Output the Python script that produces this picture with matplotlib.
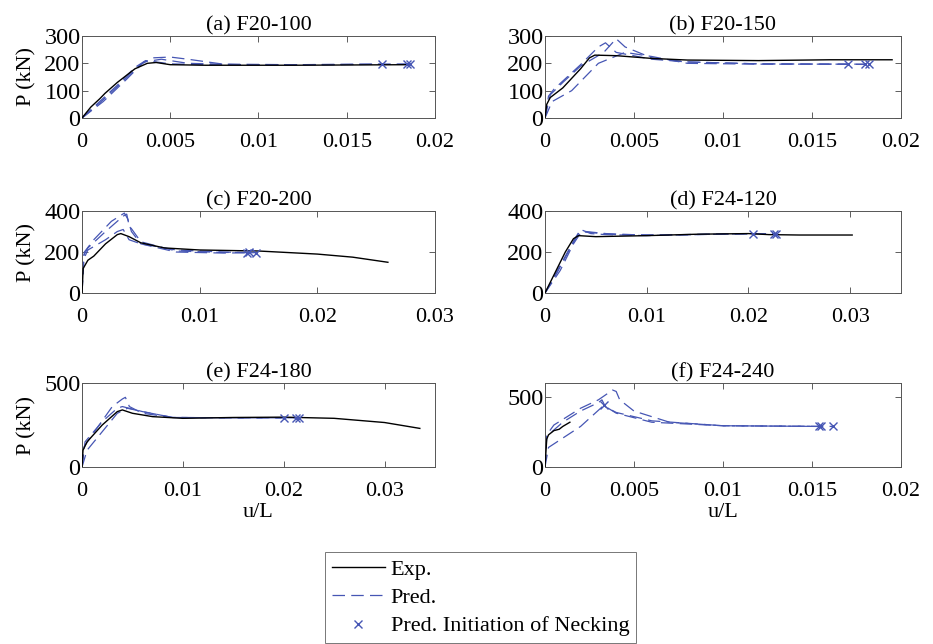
import matplotlib.pyplot as plt

plt.rcParams['font.family'] = ['Liberation Serif', 'DejaVu Serif']
plt.rcParams['font.size'] = 16

EXP_C = 'k'
PRED_C = '#4656b4'

# ---------------- (a) F20-100 ----------------
a_exp_u = [0, 0.0005, 0.001, 0.0013, 0.002, 0.003, 0.0037, 0.0042, 0.005, 0.007, 0.012, 0.0185]
a_exp_p = [0, 40, 70, 90, 130, 180, 200, 203, 195, 193, 193, 195]
a_pred_u = [[0, 0.001, 0.002, 0.003, 0.0036, 0.0042, 0.005, 0.007, 0.012, 0.017],
            [0, 0.001, 0.002, 0.0033, 0.004, 0.005, 0.006, 0.008, 0.012, 0.0184],
            [0, 0.0012, 0.0025, 0.0035, 0.0045, 0.006, 0.009, 0.014, 0.0186]]
a_pred_p = [[0, 60, 120, 185, 210, 205, 198, 195, 195, 197],
            [0, 55, 115, 195, 220, 223, 215, 197, 195, 197],
            [0, 60, 140, 205, 215, 200, 195, 195, 197]]

# ---------------- (b) F20-150 ----------------
b_exp_u = [0, 0.0001, 0.0003, 0.001, 0.002, 0.0025, 0.0028, 0.004, 0.006, 0.008, 0.012, 0.016, 0.0195]
b_exp_p = [0, 50, 75, 110, 180, 220, 230, 228, 218, 212, 210, 213, 213]
b_pred_u = [[0, 0.0002, 0.0005, 0.002, 0.003, 0.0034, 0.004, 0.006, 0.008, 0.012, 0.017],
            [0, 0.0003, 0.001, 0.002, 0.0033, 0.004, 0.0045, 0.006, 0.008, 0.012, 0.018],
            [0, 0.0004, 0.0015, 0.003, 0.0045, 0.006, 0.008, 0.012, 0.0182]]
b_pred_p = [[0, 80, 105, 195, 260, 275, 240, 215, 205, 198, 197],
            [0, 85, 130, 190, 240, 290, 260, 220, 205, 198, 196],
            [0, 60, 100, 200, 240, 225, 200, 197, 197]]

# ---------------- (c) F20-200 ----------------
c_exp_u = [0, 0.0001, 0.0005, 0.001, 0.002, 0.003, 0.0033, 0.004, 0.005, 0.007, 0.01, 0.015, 0.02, 0.023, 0.026]
c_exp_p = [0, 120, 160, 180, 240, 285, 290, 275, 245, 220, 210, 205, 190, 175, 150]
c_pred_u = [[0, 0.0001, 0.0005, 0.002, 0.003, 0.0035, 0.004, 0.005, 0.008, 0.012, 0.014],
            [0, 0.0001, 0.0005, 0.002, 0.003, 0.0035, 0.0038, 0.004, 0.005, 0.008, 0.012, 0.0142],
            [0, 0.0002, 0.001, 0.0025, 0.0036, 0.0039, 0.0042, 0.005, 0.008, 0.012, 0.0148]]
c_pred_p = [[0, 160, 210, 260, 300, 310, 260, 240, 210, 200, 197],
            [0, 180, 220, 300, 350, 375, 385, 330, 250, 205, 198, 198],
            [0, 200, 260, 350, 390, 360, 300, 240, 200, 195, 197]]

# ---------------- (d) F24-120 ----------------
d_exp_u = [0, 0.001, 0.002, 0.0028, 0.0033, 0.005, 0.01, 0.015, 0.02, 0.022, 0.025, 0.0302]
d_exp_p = [0, 100, 200, 265, 280, 275, 280, 287, 290, 285, 283, 283]
d_pred_u = [[0, 0.001, 0.002, 0.003, 0.0035, 0.0045, 0.006, 0.01, 0.015, 0.0205],
            [0, 0.0012, 0.0025, 0.0033, 0.004, 0.006, 0.01, 0.016, 0.0225],
            [0, 0.0015, 0.0028, 0.0036, 0.0045, 0.007, 0.012, 0.018, 0.0227]]
d_pred_p = [[0, 90, 180, 270, 310, 290, 285, 280, 285, 290],
            [0, 100, 220, 290, 300, 290, 282, 287, 290],
            [0, 110, 240, 300, 295, 285, 283, 288, 290]]

# ---------------- (e) F24-180 ----------------
e_exp_u = [0, 0.0001, 0.0005, 0.002, 0.0035, 0.004, 0.005, 0.007, 0.01, 0.015, 0.02, 0.025, 0.03, 0.0335]
e_exp_p = [0, 100, 150, 250, 330, 340, 320, 300, 290, 295, 297, 290, 265, 230]
e_pred_u = [[0, 0.0002, 0.001, 0.003, 0.004, 0.0043, 0.0047, 0.006, 0.009, 0.015, 0.02],
            [0, 0.0003, 0.002, 0.0035, 0.004, 0.006, 0.009, 0.015, 0.0212],
            [0, 0.0005, 0.002, 0.0035, 0.0045, 0.006, 0.009, 0.015, 0.0215]]
e_pred_p = [[0, 120, 190, 360, 405, 415, 360, 320, 295, 293, 293],
            [0, 150, 270, 350, 360, 330, 295, 293, 293],
            [0, 100, 210, 320, 350, 330, 295, 293, 293]]

# ---------------- (f) F24-240 ----------------
f_exp_u = [0, 0.0001, 0.0002, 0.0005, 0.0008, 0.001, 0.0014]
f_exp_p = [0, 200, 230, 260, 270, 290, 320]
f_pred_u = [[0, 0.0001, 0.0005, 0.002, 0.003, 0.0038, 0.004, 0.0042, 0.005, 0.007, 0.01, 0.0154],
            [0, 0.0001, 0.001, 0.002, 0.003, 0.0032, 0.0034, 0.004, 0.006, 0.01, 0.0155],
            [0, 0.0002, 0.002, 0.0033, 0.004, 0.006, 0.01, 0.0162]]
f_pred_p = [[0, 230, 300, 420, 480, 550, 540, 480, 400, 320, 295, 290],
            [0, 220, 320, 400, 460, 480, 430, 390, 330, 295, 290],
            [0, 140, 290, 440, 385, 320, 295, 290]]
f_extra_neck_u = [0.0033]
f_extra_neck_p = [440]

titles = ['(a) F20-100', '(b) F20-150', '(c) F20-200', '(d) F24-120', '(e) F24-180', '(f) F24-240']
exp_u = [a_exp_u, b_exp_u, c_exp_u, d_exp_u, e_exp_u, f_exp_u]
exp_p = [a_exp_p, b_exp_p, c_exp_p, d_exp_p, e_exp_p, f_exp_p]
pred_u = [a_pred_u, b_pred_u, c_pred_u, d_pred_u, e_pred_u, f_pred_u]
pred_p = [a_pred_p, b_pred_p, c_pred_p, d_pred_p, e_pred_p, f_pred_p]
xmax = [0.02, 0.02, 0.03, 0.035, 0.035, 0.02]
ymax = [300, 300, 400, 400, 500, 600]
xticks = [[0, 0.005, 0.01, 0.015, 0.02], [0, 0.005, 0.01, 0.015, 0.02],
          [0, 0.01, 0.02, 0.03], [0, 0.01, 0.02, 0.03],
          [0, 0.01, 0.02, 0.03], [0, 0.005, 0.01, 0.015, 0.02]]
xticklabels = [['0', '0.005', '0.01', '0.015', '0.02'], ['0', '0.005', '0.01', '0.015', '0.02'],
               ['0', '0.01', '0.02', '0.03'], ['0', '0.01', '0.02', '0.03'],
               ['0', '0.01', '0.02', '0.03'], ['0', '0.005', '0.01', '0.015', '0.02']]
yticks = [[0, 100, 200, 300], [0, 100, 200, 300], [0, 200, 400], [0, 200, 400], [0, 500], [0, 500]]

# ------ figure layout (fractions of the figure) ------
fig = plt.figure(figsize=(9.33, 6.44), dpi=100)
lefts = [0.0879, 0.5841]
bottoms = [0.8168, 0.545, 0.2748]
heights = [0.1273, 0.1273, 0.1304]
widths = [0.3783, 0.3816]

axes = []
for i in range(6):
    r, c = divmod(i, 2)
    ax = fig.add_axes([lefts[c], bottoms[r], widths[c], heights[r]])
    axes.append(ax)

    ax.plot(exp_u[i], exp_p[i], color=EXP_C, lw=1.0, zorder=3)
    for uu, pp in zip(pred_u[i], pred_p[i]):
        ax.plot(uu, pp, color=PRED_C, lw=0.9, linestyle=(0, (10, 5)), zorder=2)
        ax.plot(uu[-1], pp[-1], 'x', color=PRED_C, ms=6, mew=1.0, zorder=4)

    ax.set_xlim(0, xmax[i])
    ax.set_ylim(0, ymax[i])
    ax.set_xticks(xticks[i])
    ax.set_xticklabels(xticklabels[i])
    ax.set_yticks(yticks[i])
    ax.set_title(titles[i], fontsize=16, pad=4)
    ax.tick_params(direction='in', top=True, right=True, length=4, width=0.6,
                   color='#444444')
    ax.tick_params(axis='x', labelsize=16, pad=11)
    ax.tick_params(axis='y', labelsize=17.5, pad=1)
    for s in ax.spines.values():
        s.set_color('#555555')
        s.set_linewidth(0.7)
    if c == 0:
        ax.set_ylabel('P (kN)', fontsize=16, labelpad=6)
    if r == 2:
        ax.set_xlabel('u/L', fontsize=16, labelpad=1)

axes[5].plot(f_extra_neck_u, f_extra_neck_p, 'x', color=PRED_C, ms=6, mew=1.0, zorder=4)

# ------ shared legend below the panels ------
h_exp, = plt.plot([], [], color=EXP_C, lw=1.0)
h_pred, = plt.plot([], [], color=PRED_C, lw=0.9, linestyle=(0, (10, 5)))
h_neck, = plt.plot([], [], 'x', color=PRED_C, ms=6, mew=1.0, linestyle='none')
leg = fig.legend([h_exp, h_pred, h_neck], ['Exp.', 'Pred.', 'Pred. Initiation of Necking'],
                 loc='lower left', bbox_to_anchor=(325 / 933, 1 - 643 / 644),
                 fontsize=16, frameon=True, fancybox=False, handlelength=2.4,
                 handletextpad=0.25, borderpad=0.3, labelspacing=0.35, borderaxespad=0)
leg.get_frame().set_edgecolor('#555555')
leg.get_frame().set_linewidth(0.7)

fig.savefig('out.png', dpi=100)
